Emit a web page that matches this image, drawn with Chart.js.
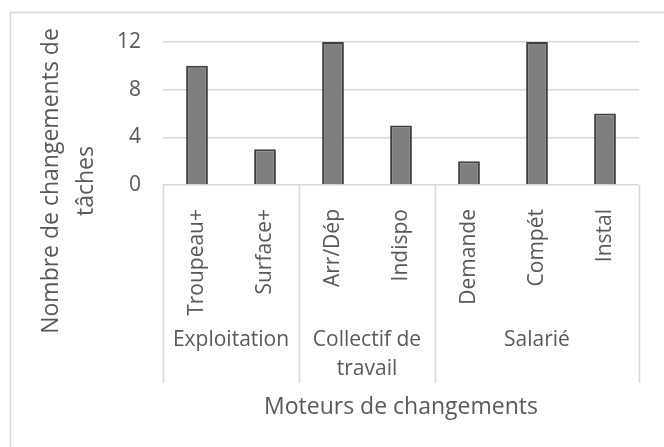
<!DOCTYPE html>
<html>
<head>
<meta charset="utf-8">
<script src="https://cdn.jsdelivr.net/npm/chart.js@4"></script>
<style>
  html, body { margin: 0; padding: 0; background: #ffffff; }
  #c { display: block; }
</style>
</head>
<body>
<canvas id="c" width="664" height="447"></canvas>
<script>
const categories = ['Troupeau+', 'Surface+', 'Arr/Dép', 'Indispo', 'Demande', 'Compét', 'Instal'];
const values = [10, 3, 12, 5, 2, 12, 6];
const groupNames = ['Exploitation', 'Collectif de\ntravail', 'Salarié'];
const groupOf = [0, 0, 1, 1, 2, 2, 2];
const yTicks = [0, 4, 8, 12];
const yTitle = ['Nombre de changements de', 'tâches'];
const xTitle = 'Moteurs de changements';

const TEXT = '#595959';
const LINE = '#d9d9d9';
const FONT = "'Open Sans', sans-serif";

const decor = {
  id: 'decor',
  beforeDraw(chart) {
    const ctx = chart.ctx;
    ctx.save();
    ctx.fillStyle = '#ffffff';
    ctx.fillRect(0, 0, chart.width, chart.height);
    ctx.strokeStyle = LINE;
    ctx.lineWidth = 1.5;
    ctx.strokeRect(10.5, 12.5, chart.width + 20, chart.height + 20);
    ctx.restore();
  },
  afterDraw(chart) {
    const ctx = chart.ctx;
    const x = chart.scales.x;
    const area = chart.chartArea;
    const half = (x.getPixelForValue(1) - x.getPixelForValue(0)) / 2;
    const bottom = 383;
    ctx.save();
    // group boundaries
    ctx.strokeStyle = LINE;
    ctx.lineWidth = 1.5;
    const bounds = [];
    for (let i = 0; i < categories.length; i++) {
      if (i === 0 || groupOf[i] !== groupOf[i - 1]) bounds.push(x.getPixelForValue(i) - half);
    }
    bounds.push(x.getPixelForValue(categories.length - 1) + half);
    bounds.forEach(px => {
      const p = Math.round(px) + 0.5;
      ctx.beginPath();
      ctx.moveTo(p, area.bottom);
      ctx.lineTo(p, bottom);
      ctx.stroke();
    });
    // group labels
    ctx.fillStyle = TEXT;
    ctx.font = "21px " + FONT;
    ctx.textAlign = 'center';
    ctx.textBaseline = 'alphabetic';
    groupNames.forEach((name, g) => {
      const idx = groupOf.map((v, i) => v === g ? i : -1).filter(i => i >= 0);
      const cx = (x.getPixelForValue(idx[0]) + x.getPixelForValue(idx[idx.length - 1])) / 2;
      name.split('\n').forEach((line, k) => {
        ctx.fillText(line, cx, 346 + k * 29);
      });
    });
    // x title
    ctx.font = "23px " + FONT;
    ctx.fillText(xTitle, (area.left + area.right) / 2, 414);
    // y title
    ctx.translate(0, 181);
    ctx.rotate(-Math.PI / 2);
    ctx.fillText(yTitle[0], 0, 58);
    ctx.fillText(yTitle[1], 0, 93);
    ctx.restore();
  }
};

new Chart(document.getElementById('c'), {
  type: 'bar',
  data: {
    labels: categories,
    datasets: [{
      data: values,
      backgroundColor: '#7f7f7f',
      borderColor: '#404040',
      borderWidth: 2,
      categoryPercentage: 1,
      barPercentage: 0.32
    }]
  },
  options: {
    responsive: false,
    animation: false,
    devicePixelRatio: 1,
    layout: { padding: { left: 0, top: 42, right: 25, bottom: 0 } },
    plugins: { legend: { display: false }, tooltip: { enabled: false } },
    scales: {
      x: {
        grid: { display: false },
        border: { display: false },
        ticks: {
          color: TEXT,
          font: { family: FONT, size: 21 },
          minRotation: 90,
          maxRotation: 90,
          autoSkip: false,
          padding: 16
        },
        afterFit(scale) { scale.height = 262; }
      },
      y: {
        min: 0,
        max: 12,
        afterBuildTicks(scale) { scale.ticks = yTicks.map(v => ({ value: v })); },
        grid: { color: LINE, lineWidth: 1.5, drawTicks: false },
        border: { display: false },
        ticks: {
          color: TEXT,
          font: { family: FONT, size: 21 },
          padding: 22
        },
        afterFit(scale) { scale.width = 163; }
      }
    }
  },
  plugins: [decor]
});
</script>
</body>
</html>
